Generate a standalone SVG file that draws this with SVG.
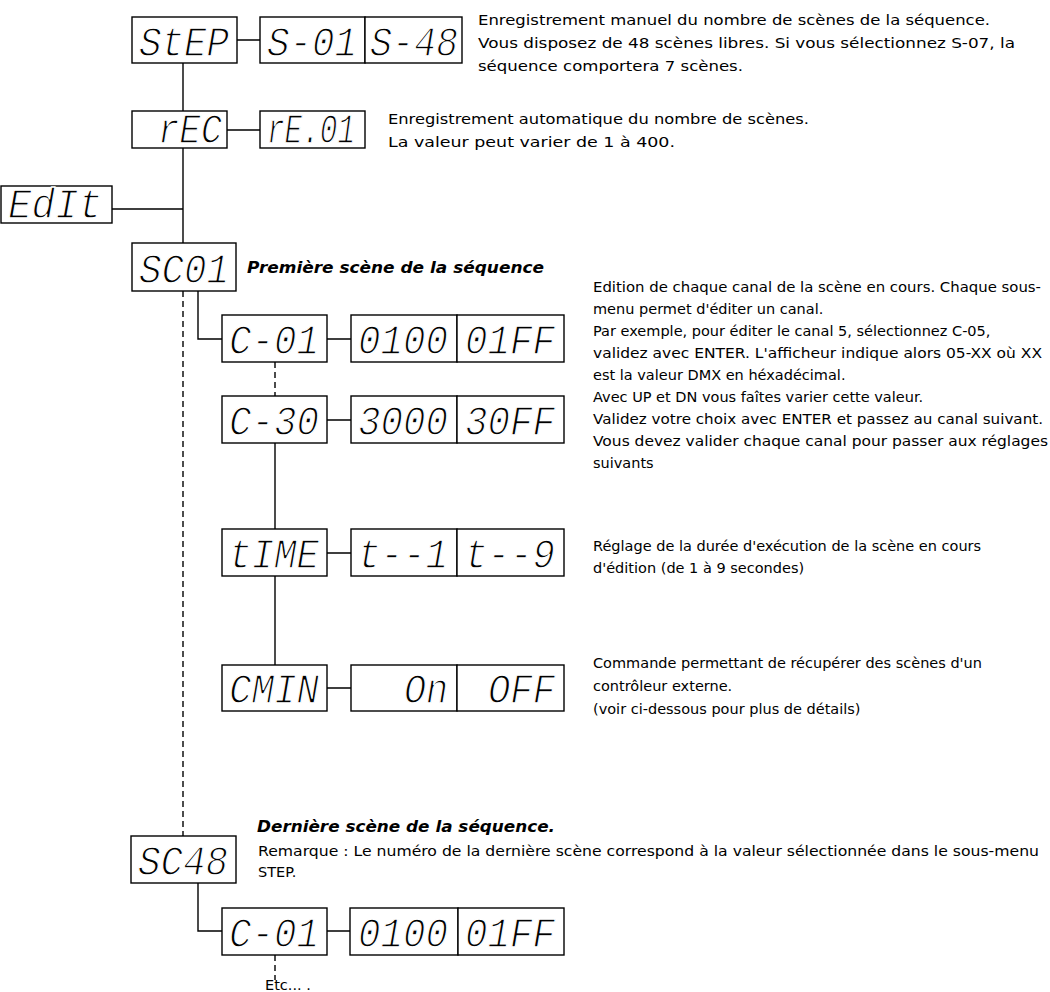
<svg xmlns="http://www.w3.org/2000/svg" width="1050" height="992" viewBox="0 0 1050 992">
<style>
.b{fill:#fff;stroke:#000;stroke-width:1.4}
.d{font-family:"Liberation Mono",monospace;font-style:italic;font-size:42px;fill:#000;stroke:#fff;stroke-width:1.3px}
.t{font-family:"DejaVu Sans","Liberation Sans",sans-serif;font-size:14.5px;fill:#000}
.h{font-family:"DejaVu Sans","Liberation Sans",sans-serif;font-size:15px;font-weight:bold;font-style:italic;fill:#000}
.c{fill:none;stroke:#000;stroke-width:1.4}
.k{fill:none;stroke:#000;stroke-width:1.4;stroke-dasharray:6,4}
</style>
<rect width="1050" height="992" fill="#fff"/>
<g id="connectors">
<path class="c" d="M183 63V111M183 148V243M237 40H260M227 130H260M112 209H183"/>
<path class="k" d="M183 291V836"/>
<path class="c" d="M198 291V339H222M327 339H351"/>
<path class="k" d="M275 362V396"/>
<path class="c" d="M327 420H351M275 443V529M327 553H351M275 576V665M327 688H351"/>
<path class="c" d="M198 883V931H222M327 931H350"/>
<path class="k" d="M275 955V980"/>
</g>
<g id="step"><rect class="b" x="132" y="17" width="105" height="46"/><text class="d" x="139" y="56" textLength="90" lengthAdjust="spacingAndGlyphs">StEP</text></g>
<g id="step-values"><rect class="b" x="260" y="17" width="105" height="46"/><rect class="b" x="365" y="17" width="97" height="46"/><text class="d" x="267" y="56" textLength="90" lengthAdjust="spacingAndGlyphs">S-01</text><text class="d" x="370" y="56" textLength="88" lengthAdjust="spacingAndGlyphs">S-48</text></g>
<g id="rec"><rect class="b" x="132" y="111" width="95" height="37"/><text class="d" x="158" y="143" font-size="37" textLength="64" lengthAdjust="spacingAndGlyphs">rEC</text></g>
<g id="rec-value"><rect class="b" x="260" y="111" width="105" height="37"/><text class="d" x="267" y="143" font-size="37" textLength="88" lengthAdjust="spacingAndGlyphs">rE.01</text></g>
<g id="edit"><rect class="b" x="1" y="186" width="111" height="37"/><text class="d" x="8" y="218" font-size="37" textLength="94" lengthAdjust="spacingAndGlyphs">EdIt</text></g>
<g id="sc01"><rect class="b" x="132" y="243" width="104" height="48"/><text class="d" x="139" y="283" textLength="90" lengthAdjust="spacingAndGlyphs">SC01</text></g>
<g id="c01"><rect class="b" x="222" y="315" width="105" height="47"/><text class="d" x="229" y="354" textLength="90" lengthAdjust="spacingAndGlyphs">C-01</text></g>
<g id="c01-values"><rect class="b" x="351" y="315" width="106" height="47"/><rect class="b" x="457" y="315" width="107" height="47"/><text class="d" x="358" y="354" textLength="90" lengthAdjust="spacingAndGlyphs">0100</text><text class="d" x="465" y="354" textLength="90" lengthAdjust="spacingAndGlyphs">01FF</text></g>
<g id="c30"><rect class="b" x="222" y="396" width="105" height="47"/><text class="d" x="229" y="435" textLength="90" lengthAdjust="spacingAndGlyphs">C-30</text></g>
<g id="c30-values"><rect class="b" x="351" y="396" width="106" height="47"/><rect class="b" x="457" y="396" width="107" height="47"/><text class="d" x="358" y="435" textLength="90" lengthAdjust="spacingAndGlyphs">3000</text><text class="d" x="465" y="435" textLength="90" lengthAdjust="spacingAndGlyphs">30FF</text></g>
<g id="time"><rect class="b" x="222" y="529" width="105" height="47"/><text class="d" x="229" y="568" textLength="90" lengthAdjust="spacingAndGlyphs">tIME</text></g>
<g id="time-values"><rect class="b" x="351" y="529" width="106" height="47"/><rect class="b" x="457" y="529" width="107" height="47"/><text class="d" x="358" y="568" textLength="90" lengthAdjust="spacingAndGlyphs">t--1</text><text class="d" x="465" y="568" textLength="90" lengthAdjust="spacingAndGlyphs">t--9</text></g>
<g id="cmin"><rect class="b" x="222" y="665" width="105" height="46"/><text class="d" x="229" y="703" textLength="90" lengthAdjust="spacingAndGlyphs">CMIN</text></g>
<g id="cmin-values"><rect class="b" x="351" y="665" width="106" height="46"/><rect class="b" x="457" y="665" width="107" height="46"/><text class="d" x="404" y="703" textLength="44" lengthAdjust="spacingAndGlyphs">On</text><text class="d" x="488" y="703" textLength="67" lengthAdjust="spacingAndGlyphs">OFF</text></g>
<g id="sc48"><rect class="b" x="131" y="836" width="105" height="47"/><text class="d" x="138" y="875" textLength="90" lengthAdjust="spacingAndGlyphs">SC48</text></g>
<g id="c01b"><rect class="b" x="222" y="908" width="105" height="47"/><text class="d" x="229" y="947" textLength="90" lengthAdjust="spacingAndGlyphs">C-01</text></g>
<g id="c01b-values"><rect class="b" x="350" y="908" width="108" height="47"/><rect class="b" x="458" y="908" width="106" height="47"/><text class="d" x="358" y="947" textLength="90" lengthAdjust="spacingAndGlyphs">0100</text><text class="d" x="465" y="947" textLength="90" lengthAdjust="spacingAndGlyphs">01FF</text></g>
<g id="texts">
<text class="t" x="478" y="25" textLength="512" lengthAdjust="spacingAndGlyphs">Enregistrement manuel du nombre de scènes de la séquence.</text>
<text class="t" x="478" y="48" textLength="537" lengthAdjust="spacingAndGlyphs">Vous disposez de 48 scènes libres. Si vous sélectionnez S-07, la</text>
<text class="t" x="478" y="71" textLength="265" lengthAdjust="spacingAndGlyphs">séquence comportera 7 scènes.</text>
<text class="t" x="388" y="124" textLength="421" lengthAdjust="spacingAndGlyphs">Enregistrement automatique du nombre de scènes.</text>
<text class="t" x="388" y="147" textLength="287" lengthAdjust="spacingAndGlyphs">La valeur peut varier de 1 à 400.</text>
<text class="h" x="247" y="273" textLength="297" lengthAdjust="spacingAndGlyphs">Première scène de la séquence</text>
<text class="t" x="593" y="292" textLength="448" lengthAdjust="spacingAndGlyphs">Edition de chaque canal de la scène en cours. Chaque sous-</text>
<text class="t" x="593" y="314">menu permet d'éditer un canal.</text>
<text class="t" x="593" y="336">Par exemple, pour éditer le canal 5, sélectionnez C-05,</text>
<text class="t" x="593" y="358" textLength="449" lengthAdjust="spacingAndGlyphs">validez avec ENTER. L'afficheur indique alors 05-XX où XX</text>
<text class="t" x="593" y="380">est la valeur DMX en héxadécimal.</text>
<text class="t" x="593" y="402">Avec UP et DN vous faîtes varier cette valeur.</text>
<text class="t" x="593" y="424" textLength="450" lengthAdjust="spacingAndGlyphs">Validez votre choix avec ENTER et passez au canal suivant.</text>
<text class="t" x="593" y="446" textLength="455" lengthAdjust="spacingAndGlyphs">Vous devez valider chaque canal pour passer aux réglages</text>
<text class="t" x="593" y="468">suivants</text>
<text class="t" x="593" y="551">Réglage de la durée d'exécution de la scène en cours</text>
<text class="t" x="593" y="573">d'édition (de 1 à 9 secondes)</text>
<text class="t" x="593" y="668">Commande permettant de récupérer des scènes d'un</text>
<text class="t" x="593" y="691">contrôleur externe.</text>
<text class="t" x="593" y="714">(voir ci-dessous pour plus de détails)</text>
<text class="h" x="257" y="832" textLength="298" lengthAdjust="spacingAndGlyphs">Dernière scène de la séquence.</text>
<text class="t" x="258" y="856" textLength="781" lengthAdjust="spacingAndGlyphs">Remarque : Le numéro de la dernière scène correspond à la valeur sélectionnée dans le sous-menu</text>
<text class="t" x="258" y="877">STEP.</text>
<text class="t" x="265" y="990" font-size="13">Etc... .</text>
</g>
</svg>
